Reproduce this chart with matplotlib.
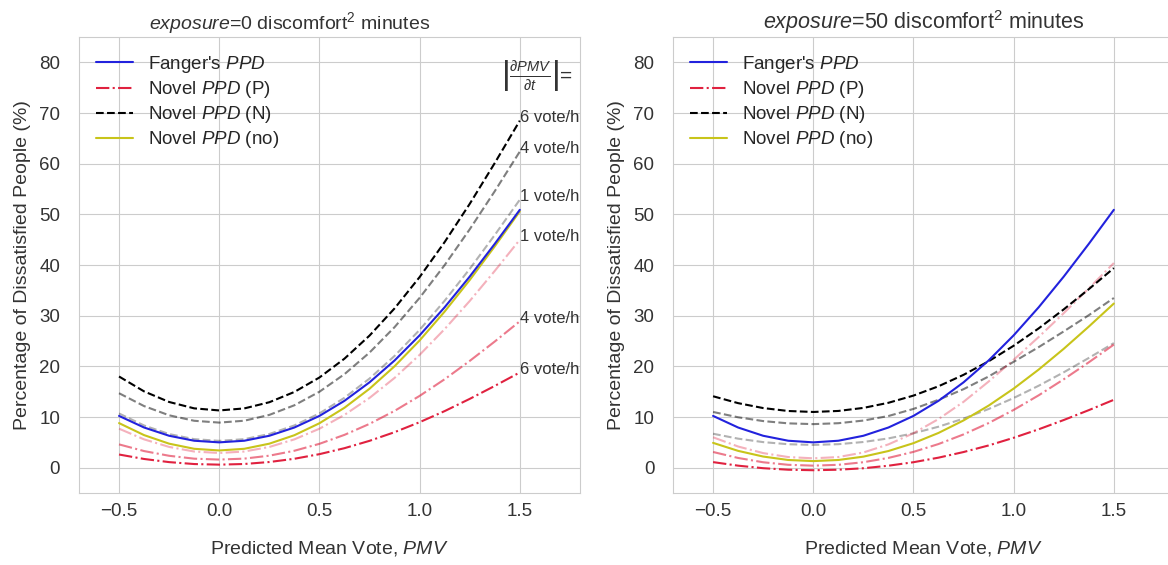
import matplotlib
matplotlib.use("Agg")
import matplotlib.pyplot as plt
import seaborn as sns

sns.set_style("whitegrid")
plt.rcParams['font.family'] = ['Liberation Sans', 'DejaVu Sans']
plt.rcParams['mathtext.fontset'] = 'custom'
plt.rcParams['mathtext.rm'] = 'Liberation Sans'
plt.rcParams['mathtext.it'] = 'Liberation Sans:italic'
plt.rcParams['mathtext.bf'] = 'Liberation Sans:bold'

# data
pmv = [-0.5, -0.375, -0.25, -0.125, 0.0, 0.125, 0.25, 0.375, 0.5,
       0.625, 0.75, 0.875, 1.0, 1.125, 1.25, 1.375, 1.5]
fanger = [10.22, 7.93, 6.30, 5.32, 5.0, 5.32, 6.30, 7.93, 10.22,
          13.20, 16.85, 21.16, 26.12, 31.67, 37.72, 44.18, 50.90]

# exposure = 0
n6_0 = [18.0, 15.06, 12.97, 11.71, 11.3, 11.70, 12.92, 14.95, 17.8,
        21.52, 26.07, 31.44, 37.62, 44.54, 52.07, 60.13, 68.5]
n4_0 = [14.7, 12.16, 10.34, 9.26, 8.9, 9.27, 10.42, 12.32, 14.99,
        18.46, 22.72, 27.74, 33.52, 39.99, 47.05, 54.57, 62.4]
n1_0 = [10.7, 8.33, 6.64, 5.63, 5.3, 5.63, 6.65, 8.34, 10.71,
        13.80, 17.59, 22.06, 27.2, 32.96, 39.23, 45.93, 52.9]
no_0 = [8.8, 6.43, 4.74, 3.73, 3.4, 3.73, 4.74, 6.41, 8.77,
        11.83, 15.58, 20.02, 25.11, 30.82, 37.04, 43.69, 50.6]
p1_0 = [7.7, 5.59, 4.1, 3.19, 2.9, 3.19, 4.09, 5.59, 7.69,
        10.42, 13.77, 17.72, 22.27, 27.36, 32.9, 38.84, 45.0]
p4_0 = [4.6, 3.28, 2.35, 1.78, 1.6, 1.79, 2.37, 3.34, 4.71,
        6.48, 8.65, 11.21, 14.17, 17.46, 21.07, 24.90, 28.9]
p6_0 = [2.6, 1.72, 1.1, 0.72, 0.6, 0.73, 1.12, 1.76, 2.67,
        3.85, 5.3, 7.01, 8.98, 11.17, 13.58, 16.14, 18.8]

# exposure = 50
n6_50 = [14.1, 12.74, 11.77, 11.19, 11.0, 11.2, 11.8, 12.81, 14.23,
         16.07, 18.33, 21.0, 24.07, 27.5, 31.25, 35.24, 39.4]
n4_50 = [11.0, 9.95, 9.2, 8.75, 8.6, 8.78, 9.3, 10.2, 11.6,
         13.4, 15.5, 18.0, 20.9, 23.8, 26.9, 30.1, 33.5]
n1_50 = [6.7, 5.73, 5.05, 4.63, 4.5, 4.64, 5.07, 5.78, 6.79,
         8.09, 9.69, 11.58, 13.75, 16.18, 18.83, 21.66, 24.6]
no_50 = [4.9, 3.32, 2.2, 1.52, 1.3, 1.52, 2.18, 3.29, 4.84,
         6.86, 9.33, 12.25, 15.61, 19.37, 23.47, 27.85, 32.4]
p1_50 = [6.0, 4.18, 2.88, 2.1, 1.85, 2.1, 3.0, 4.6, 6.8,
         9.6, 13.0, 17.0, 21.3, 25.8, 30.5, 35.4, 40.4]
p4_50 = [3.1, 1.92, 1.07, 0.57, 0.4, 0.57, 1.08, 1.93, 3.12,
         4.67, 6.57, 8.81, 11.4, 14.29, 17.45, 20.8, 24.3]
p6_50 = [1.1, 0.4, -0.1, -0.4, -0.5, -0.4, -0.11, 0.39, 1.08,
         1.98, 3.09, 4.39, 5.9, 7.58, 9.41, 11.36, 13.4]

rate_labels = ['6 vote/h', '4 vote/h', '1 vote/h', '1 vote/h', '4 vote/h', '6 vote/h']
exposures = [0, 50]

RED = '#e0213f'
BLUE = '#2222dd'
YELLOW = '#c8c41a'
TXT = '#333333'

fig = plt.figure(figsize=(11.68, 5.65), dpi=100)
ax1 = fig.add_axes([0.0676, 0.1274, 0.4289, 0.807])
ax2 = fig.add_axes([0.5762, 0.1274, 0.4289, 0.807])

panels = [
    (ax1, n6_0, n4_0, n1_0, no_0, p1_0, p4_0, p6_0),
    (ax2, n6_50, n4_50, n1_50, no_50, p1_50, p4_50, p6_50),
]

for i, (ax, n6, n4, n1, no, p1, p4, p6) in enumerate(panels):
    ax.plot(pmv, n4, '--', color='black', alpha=0.5, lw=1.5)
    ax.plot(pmv, n1, '--', color='black', alpha=0.3, lw=1.5)
    ax.plot(pmv, p1, '-.', color=RED, alpha=0.35, lw=1.5)
    ax.plot(pmv, p4, '-.', color=RED, alpha=0.6, lw=1.5)
    ax.plot(pmv, fanger, '-', color=BLUE, lw=1.5, label="Fanger's $PPD$", zorder=5)
    ax.plot(pmv, p6, '-.', color=RED, lw=1.5, label='Novel $PPD$ (P)')
    ax.plot(pmv, n6, '--', color='black', lw=1.5, label='Novel $PPD$ (N)')
    ax.plot(pmv, no, '-', color=YELLOW, lw=1.5, label='Novel $PPD$ (no)')

    ax.set_xlim(-0.7, 1.8)
    ax.set_ylim(-5, 85)
    ax.set_xticks([-0.5, 0.0, 0.5, 1.0, 1.5])
    ax.set_yticks(range(0, 81, 10))
    ax.tick_params(labelsize=13.5, colors=TXT)
    ax.tick_params(axis='y', pad=10)
    ax.set_xlabel('Predicted Mean Vote, $PMV$', fontsize=14, labelpad=14, color=TXT)
    ax.set_ylabel('Percentage of Dissatisfied People (%)', fontsize=14,
                  labelpad=6, color=TXT)
    ax.legend(loc='upper left', frameon=False, fontsize=13.5,
              labelspacing=0.22, bbox_to_anchor=(0.0, 1.0))
    title = '$exposure$=%d discomfort$^2$ minutes' % exposures[i]
    if i == 0:
        ax.set_title(title, fontsize=14, x=0.421, color=TXT)
    else:
        ax.set_title(title, fontsize=15.5, color=TXT)

# rate annotations on the left panel
ends = [n6_0[-1], n4_0[-1], n1_0[-1], p1_0[-1], p4_0[-1], p6_0[-1]]
for lab, v in zip(rate_labels, ends):
    ax1.text(pmv[-1], v + 0.6, lab, fontsize=12, va='center', ha='left',
             color=TXT)
ax1.text(1.405, 77.5, r'$\left|\frac{\partial PMV}{\partial t}\right|$=',
         fontsize=15, va='center', ha='left', color=TXT)

fig.savefig('out.png', dpi=100)
